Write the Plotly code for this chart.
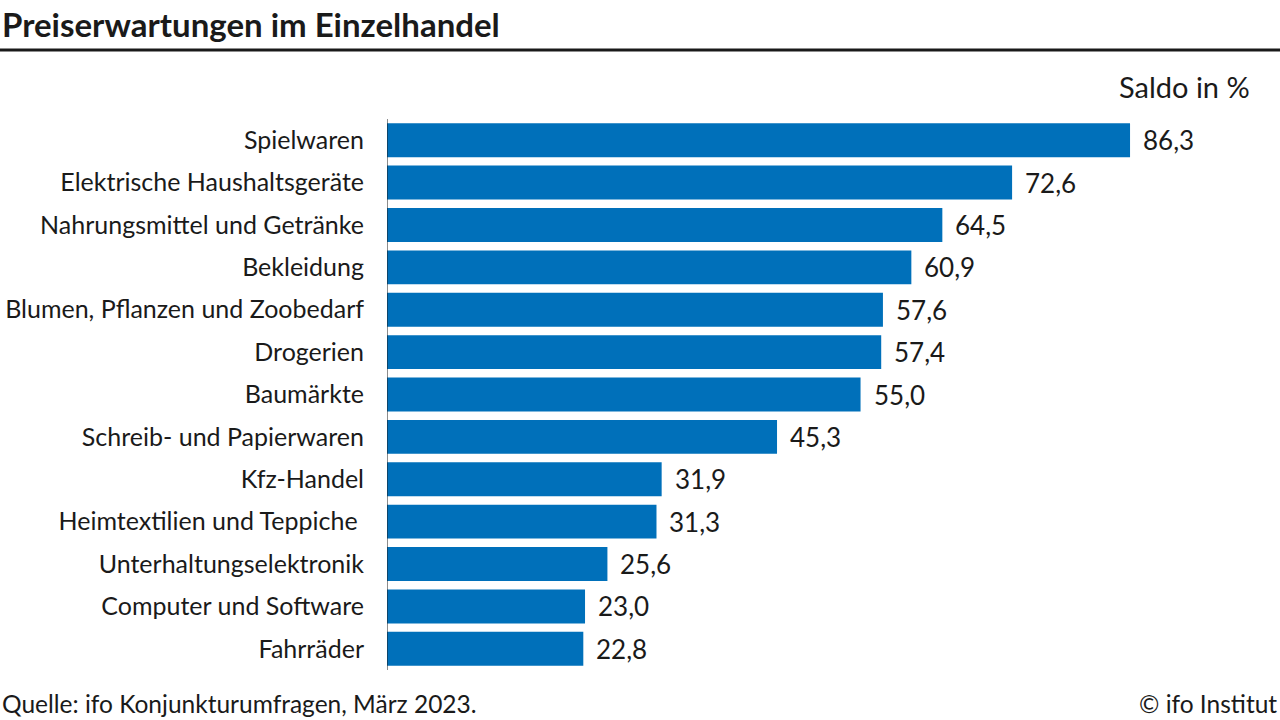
import plotly.graph_objects as go

# —— Daten ——
categories = [
    "Spielwaren",
    "Elektrische Haushaltsgeräte",
    "Nahrungsmittel und Getränke",
    "Bekleidung",
    "Blumen, Pflanzen und Zoobedarf",
    "Drogerien",
    "Baumärkte",
    "Schreib- und Papierwaren",
    "Kfz-Handel",
    "Heimtextilien und Teppiche ",
    "Unterhaltungselektronik",
    "Computer und Software",
    "Fahrräder",
]
values = [86.3, 72.6, 64.5, 60.9, 57.6, 57.4, 55.0, 45.3, 31.9, 31.3, 25.6, 23.0, 22.8]
value_labels = [f"{v:.1f}".replace(".", ",") for v in values]

FONT = "Lato"
BLUE = "#0070BA"
INK = "#1a1a1a"

W, H = 1280, 720
L, R, T, B = 387, 32, 119, 50
plot_h = H - T - B


def py(px):
    # Pixel-y -> Papier-y
    return (H - B - px) / plot_h


def px_x(px):
    return (px - L) / (W - L - R)


fig = go.Figure(go.Bar(
    x=values, y=categories, orientation="h",
    marker=dict(color=BLUE, line=dict(width=0)),
    hoverinfo="x+y",
))

# Wertebeschriftung rechts neben den Balken
annotations = [
    dict(text=lab, x=v, y=cat, xref="x", yref="y",
         xanchor="left", yanchor="middle", xshift=11, showarrow=False,
         font=dict(family=FONT, size=26, color=INK))
    for v, cat, lab in zip(values, categories, value_labels)
]

annotations += [
    dict(text="<b>Preiserwartungen im Einzelhandel</b>", xref="paper", yref="paper",
         x=px_x(0), y=py(24), xanchor="left", yanchor="middle", showarrow=False,
         font=dict(family=FONT, size=33, color=INK)),
    dict(text="Saldo in %", xref="paper", yref="paper",
         x=px_x(1252), y=py(87), xanchor="right", yanchor="middle", showarrow=False,
         font=dict(family=FONT, size=29, color=INK)),
    dict(text="Quelle: ifo Konjunkturumfragen, März 2023.", xref="paper", yref="paper",
         x=px_x(0), y=py(703), xanchor="left", yanchor="middle", showarrow=False,
         font=dict(family=FONT, size=24.5, color=INK)),
    dict(text="© ifo Institut", xref="paper", yref="paper",
         x=px_x(1279), y=py(703), xanchor="right", yanchor="middle", showarrow=False,
         font=dict(family=FONT, size=24.5, color=INK)),
]

fig.update_layout(
    width=W, height=H,
    margin=dict(l=L, r=R, t=T, b=B),
    paper_bgcolor="white", plot_bgcolor="white",
    bargap=0.2, showlegend=False,
    font=dict(family=FONT, color=INK),
    xaxis=dict(range=[0, 100], visible=False, automargin=False),
    yaxis=dict(
        autorange="reversed", showgrid=False, zeroline=False, automargin=False,
        showline=False, ticks="", ticklabelstandoff=22,
        tickfont=dict(family=FONT, size=25, color=INK),
    ),
    shapes=[
        dict(type="line", xref="paper", yref="paper",
             x0=px_x(0), x1=px_x(W), y0=py(50), y1=py(50),
             line=dict(color=INK, width=3)),
        dict(type="line", xref="x", yref="paper",
             x0=0, x1=0, y0=0, y1=1,
             line=dict(color=INK, width=1)),
    ],
    annotations=annotations,
)

# Seitenrand entfernen, Grafik fest oben links platzieren
js = (
    "document.body.style.margin='0';"
    "document.body.style.overflow='hidden';"
    "var d=document.getElementById('{plot_id}');"
    "d.style.position='fixed';d.style.left='0px';d.style.top='0px';"
)

fig.write_html("out.html", config={"displayModeBar": False}, post_script=js)
